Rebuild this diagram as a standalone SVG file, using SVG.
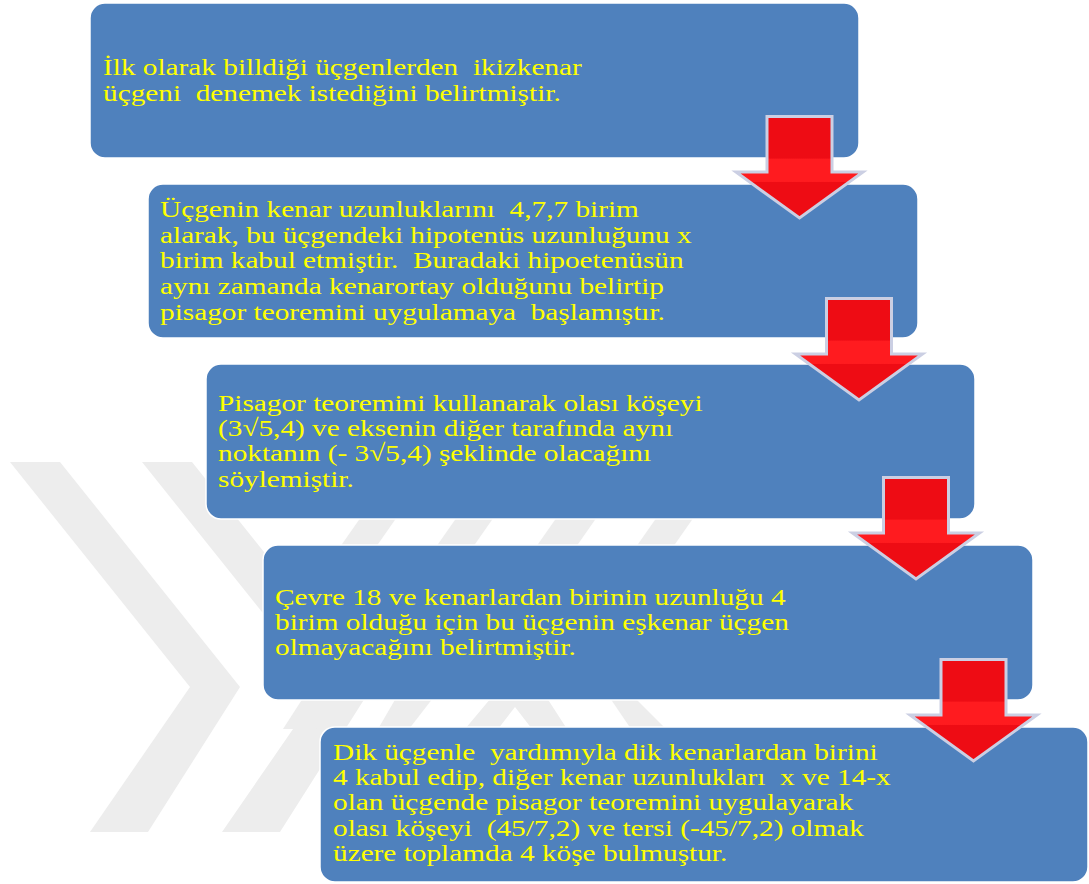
<svg xmlns="http://www.w3.org/2000/svg" xmlns:xlink="http://www.w3.org/1999/xlink" width="1089" height="884" viewBox="0 0 1089 884">
<style>
.box{fill:#4F81BD;stroke:#FFFFFF;stroke-width:1.5}
.wm{fill:#EDEDED}
.t{font-family:"Liberation Serif","Times New Roman",serif;font-size:24px;fill:#FFFF00}
.arrow{fill:url(#redGrad);stroke:#CBCFE3;stroke-width:3;stroke-linejoin:miter}
</style>
<defs>
<linearGradient id="redGrad" x1="0" y1="0" x2="0" y2="1">
<stop offset="0" stop-color="#EE0C14"/>
<stop offset="0.41" stop-color="#EE0C14"/>
<stop offset="0.42" stop-color="#FF1B1F"/>
<stop offset="0.64" stop-color="#FF1B1F"/>
<stop offset="0.65" stop-color="#EE0C14"/>
<stop offset="1" stop-color="#EE0C14"/>
</linearGradient>
<path id="arr" class="arrow" d="M-32.5,1.5 H32.5 V57 H63.5 L0,103 L-63.5,57 H-32.5 Z"/>
</defs>
<rect width="1089" height="884" fill="#FFFFFF"/>
<g id="watermark">
<polygon class="wm" points="10,462 60,462 240,687 148,832 90,832 190,687"/>
<polygon class="wm" points="142,462 192,462 372,687 280,832 222,832 322,687"/>
<polygon class="wm" points="361,517 397,517 376,547 340,547"/>
<polygon class="wm" points="457,517 494,517 473,547 436,547"/>
<polygon class="wm" points="557,517 597,517 576,547 536,547"/>
<polygon class="wm" points="657,517 694,517 673,547 636,547"/>
<polygon class="wm" points="303,698 336,698 316,729 283,729"/>
<polygon class="wm" points="396,698 433,698 409,729 378,729"/>
<polygon class="wm" points="491,698 547,698 567,729 532,729 515,707 498,729 465,729"/>
<polygon class="wm" points="610,698 635,698 666,729 631,729"/>
</g>
<g id="node1">
<rect class="box" x="90" y="3" width="769" height="155" rx="15"/>
<text class="t" transform="translate(103,0) scale(1.22,1)" xml:space="preserve"><tspan x="0" y="75">İlk olarak billdiği üçgenlerden  ikizkenar</tspan><tspan x="0" y="101">üçgeni  denemek istediğini belirtmiştir.</tspan></text>
</g>
<g id="node2">
<rect class="box" x="148" y="184" width="770" height="154" rx="15"/>
<text class="t" transform="translate(160,0) scale(1.22,1)" xml:space="preserve"><tspan x="0" y="217">Üçgenin kenar uzunluklarını  4,7,7 birim</tspan><tspan x="0" y="243">alarak, bu üçgendeki hipotenüs uzunluğunu x</tspan><tspan x="0" y="268.5">birim kabul etmiştir.  Buradaki hipoetenüsün</tspan><tspan x="0" y="294.5">aynı zamanda kenarortay olduğunu belirtip</tspan><tspan x="0" y="320">pisagor teoremini uygulamaya  başlamıştır.</tspan></text>
</g>
<g id="node3">
<rect class="box" x="206" y="364" width="769" height="155" rx="15"/>
<text class="t" transform="translate(218,0) scale(1.22,1)" xml:space="preserve"><tspan x="0" y="411.5">Pisagor teoremini kullanarak olası köşeyi</tspan><tspan x="0" y="436.5">(3√5,4) ve eksenin diğer tarafında aynı</tspan><tspan x="0" y="461.5">noktanın (- 3√5,4) şeklinde olacağını</tspan><tspan x="0" y="487">söylemiştir.</tspan></text>
</g>
<g id="node4">
<rect class="box" x="263" y="545" width="770" height="155" rx="15"/>
<text class="t" transform="translate(275,0) scale(1.22,1)" xml:space="preserve"><tspan x="0" y="605">Çevre 18 ve kenarlardan birinin uzunluğu 4</tspan><tspan x="0" y="630">birim olduğu için bu üçgenin eşkenar üçgen</tspan><tspan x="0" y="655.5">olmayacağını belirtmiştir.</tspan></text>
</g>
<g id="node5">
<rect class="box" x="320" y="727" width="768" height="155" rx="15"/>
<text class="t" transform="translate(333,0) scale(1.22,1)" xml:space="preserve"><tspan x="0" y="760">Dik üçgenle  yardımıyla dik kenarlardan birini</tspan><tspan x="0" y="785">4 kabul edip, diğer kenar uzunlukları  x ve 14-x</tspan><tspan x="0" y="810.5">olan üçgende pisagor teoremini uygulayarak</tspan><tspan x="0" y="836">olası köşeyi  (45/7,2) ve tersi (-45/7,2) olmak</tspan><tspan x="0" y="861.5">üzere toplamda 4 köşe bulmuştur.</tspan></text>
</g>
<g id="connectors">
<use xlink:href="#arr" href="#arr" transform="translate(799.5,115)"/>
<use xlink:href="#arr" href="#arr" transform="translate(859,297)"/>
<use xlink:href="#arr" href="#arr" transform="translate(916,476)"/>
<use xlink:href="#arr" href="#arr" transform="translate(973.5,658)"/>
</g>
</svg>
